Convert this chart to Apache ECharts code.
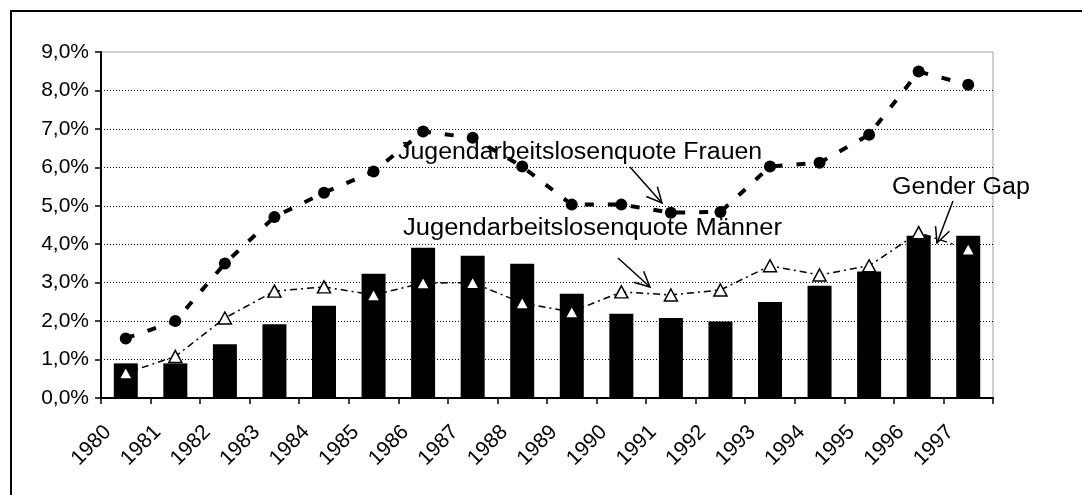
<!DOCTYPE html>
<html><head><meta charset="utf-8">
<script src="https://cdn.jsdelivr.net/npm/echarts@6/dist/echarts.min.js"></script>
<style>html,body{margin:0;padding:0;background:#fff}#c{width:1082px;height:495px}</style>
</head><body><div id="c"></div>
<script>
// ---- data ----
const years = ['1980','1981','1982','1983','1984','1985','1986','1987','1988','1989','1990','1991','1992','1993','1994','1995','1996','1997'];
const genderGap = [0.9, 0.9, 1.4, 1.92, 2.4, 3.23, 3.91, 3.7, 3.49, 2.71, 2.19, 2.08, 1.99, 2.5, 2.92, 3.29, 4.22, 4.22];
const frauen = [1.55, 2.0, 3.5, 4.71, 5.34, 5.89, 6.93, 6.77, 6.02, 5.03, 5.03, 4.82, 4.84, 6.02, 6.12, 6.85, 8.49, 8.15];
const maenner = [0.65, 1.08, 2.08, 2.78, 2.89, 2.68, 2.99, 3.0, 2.47, 2.24, 2.76, 2.68, 2.81, 3.44, 3.2, 3.44, 4.3, 3.87];
const yTickLabels = ['0,0%','1,0%','2,0%','3,0%','4,0%','5,0%','6,0%','7,0%','8,0%','9,0%'];
const textFrauen = 'Jugendarbeitslosenquote Frauen';
const textMaenner = 'Jugendarbeitslosenquote Männer';
const textGap = 'Gender Gap';

const FONT = 'Liberation Sans, Arial, Helvetica, sans-serif';

function arrow(x1, y1, x2, y2) {
  const a = Math.atan2(y2 - y1, x2 - x1), L = 17, s = 0.45;
  const p1 = [x2 - L * Math.cos(a - s), y2 - L * Math.sin(a - s)];
  const p2 = [x2 - L * Math.cos(a + s), y2 - L * Math.sin(a + s)];
  return [
    { type: 'line', shape: { x1, y1, x2, y2 }, style: { stroke: '#000', lineWidth: 1.5 }, z: 100 },
    { type: 'polyline', shape: { points: [p1, [x2, y2], p2] }, style: { stroke: '#000', lineWidth: 1.5, fill: null }, z: 100 }
  ];
}
function label(text, x, y, sx) {
  return { type: 'text', x, y, scaleX: sx, z: 100,
    style: { text, x: 0, y: 0, align: 'left', verticalAlign: 'middle', fontSize: 23, fontFamily: FONT, fill: '#000' } };
}

const splitColors = yTickLabels.map((_, i) => i === yTickLabels.length - 1 ? 'rgba(0,0,0,0)' : '#000');

const chart = echarts.init(document.getElementById('c'), null, { renderer: 'canvas' });
chart.setOption({
  animation: false,
  backgroundColor: '#fff',
  grid: [
    { left: 101, right: 89, top: 52, bottom: 97, show: true, borderColor: '#a0a0a0', borderWidth: 1, backgroundColor: 'transparent' },
    { left: 108, right: 82, top: 52, bottom: 97 }
  ],
  xAxis: [
    { type: 'category', gridIndex: 0, data: years, boundaryGap: true,
      axisLine: { lineStyle: { color: '#000', width: 2 } },
      axisTick: { show: true, length: 6, lineStyle: { color: '#000', width: 1.5 } },
      axisLabel: { show: false }, splitLine: { show: false } },
    { type: 'category', gridIndex: 1, data: years.concat(['']), boundaryGap: false,
      axisLine: { show: false }, axisTick: { show: false }, splitLine: { show: false },
      axisLabel: { interval: 0, rotate: 45, margin: 31, fontSize: 21, fontFamily: FONT, color: '#000' } }
  ],
  yAxis: [
    { type: 'value', gridIndex: 0, min: 0, max: 9, interval: 1,
      axisLine: { show: true, lineStyle: { color: '#000', width: 2 } },
      axisTick: { show: true, length: 6, lineStyle: { color: '#000', width: 1.5 } },
      axisLabel: { margin: 12, fontSize: 21, fontFamily: FONT, color: '#000', formatter: (v, i) => yTickLabels[i] },
      splitLine: { show: true, lineStyle: { color: splitColors, width: 1, type: [1, 2] } } },
    { type: 'value', gridIndex: 1, min: 0, max: 9, show: false }
  ],
  series: [
    { name: 'Gender Gap', type: 'bar', xAxisIndex: 0, yAxisIndex: 0, data: genderGap, barWidth: 24,
      itemStyle: { color: '#000' }, silent: true, z: 2 },
    { name: 'Frauen', type: 'line', xAxisIndex: 0, yAxisIndex: 0, data: frauen,
      symbol: 'circle', symbolSize: 12, showAllSymbol: true,
      itemStyle: { color: '#000' },
      lineStyle: { color: '#000', width: 4, type: [9, 14] }, silent: true, z: 3 },
    { name: 'Männer', type: 'line', xAxisIndex: 0, yAxisIndex: 0, data: maenner,
      symbol: 'triangle', symbolSize: [13, 12], showAllSymbol: true,
      itemStyle: { color: '#fff', borderColor: '#000', borderWidth: 1.5 },
      lineStyle: { color: '#000', width: 1.5, type: [7, 4, 2, 4] }, silent: true, z: 4 }
  ],
  graphic: [
    { type: 'rect', shape: { x: 11, y: 11, width: 1300, height: 1000 }, style: { fill: null, stroke: '#000', lineWidth: 2 }, z: 100 },
    label(textFrauen, 398, 153, 1.083),
    label(textMaenner, 403, 229, 1.11),
    label(textGap, 892, 188, 1.09),
    ...arrow(630, 167, 662, 203),
    ...arrow(618, 258, 650, 287),
    ...arrow(953, 201, 937, 243)
  ]
});
</script></body></html>
